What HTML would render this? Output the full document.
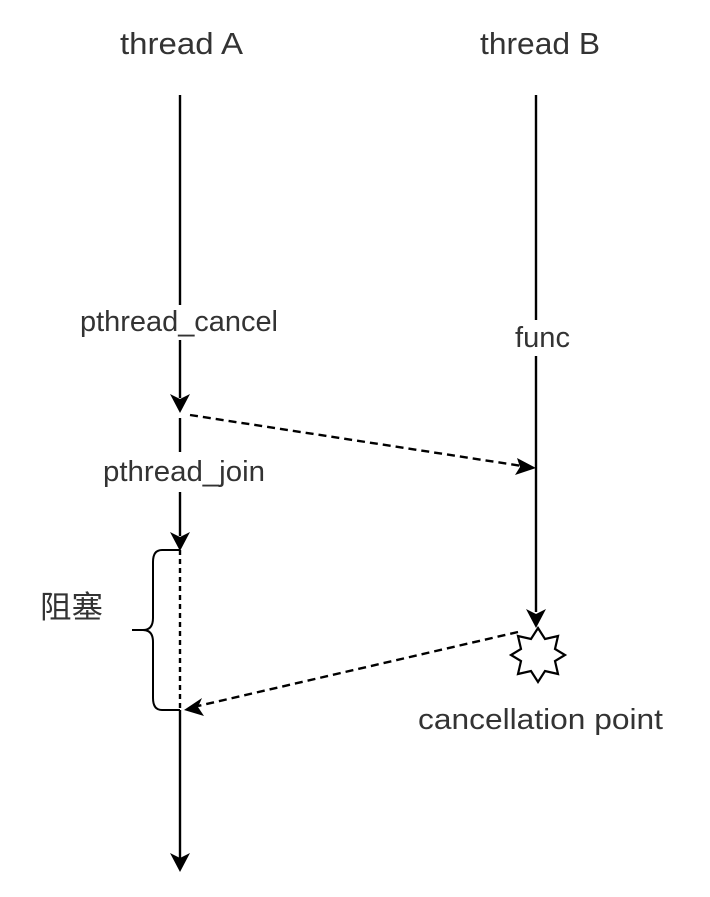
<!DOCTYPE html>
<html><head><meta charset="utf-8"><style>body{margin:0;background:#fff}</style></head><body>
<svg width="710" height="892" xmlns="http://www.w3.org/2000/svg" font-family="Liberation Sans, Noto Sans CJK SC, sans-serif" fill="#333">
<g stroke="#000" stroke-width="2.4" fill="none">
<line x1="180" y1="95" x2="180" y2="305"/>
<line x1="180" y1="340" x2="180" y2="398"/>
<line x1="180" y1="418" x2="180" y2="452"/>
<line x1="180" y1="492" x2="180" y2="536"/>
<line x1="180" y1="710" x2="180" y2="858"/>
<line x1="536" y1="95" x2="536" y2="320"/>
<line x1="536" y1="356" x2="536" y2="612"/>
<line x1="180" y1="550" x2="180" y2="710" stroke-dasharray="5,4"/>
<line x1="190" y1="415" x2="522" y2="466" stroke-dasharray="8,5"/>
<line x1="518" y1="632" x2="198" y2="706" stroke-dasharray="8,5"/>
<path d="M180 550 H162 Q153 550 153 562 V618 Q153 630 143 630 H132 M143 630 Q153 630 153 642 V698 Q153 710 162 710 H180" stroke-width="2"/>
</g>
<g fill="#000">
<path d="M180 413 L170 394 L180 399 L190 394 Z"/>
<path d="M180 551 L170 532 L180 537 L190 532 Z"/>
<path d="M180 872 L170 853 L180 858 L190 853 Z"/>
<path d="M536 628 L526 609 L536 614 L546 609 Z"/>
<path d="M536 468 L515 475 L520 467 L517 458 Z"/>
<path d="M184 710 L202 698 L198 707 L204 716 Z"/>
</g>
<polygon fill="#fff" stroke="#000" stroke-width="2.2" points="538,628 545,639 558,636 555,649 565,655 555,661 558,674 545,671 538,682 531,671 518,674 521,661 511,655 521,649 518,636 531,639"/>
<g font-size="31">
<text x="120" y="54" textLength="123" lengthAdjust="spacingAndGlyphs">thread A</text>
<text x="480" y="54" textLength="120" lengthAdjust="spacingAndGlyphs">thread B</text>
</g>
<g font-size="29">
<text x="80" y="331" textLength="198" lengthAdjust="spacingAndGlyphs">pthread_cancel</text>
<text x="515" y="347" textLength="55" lengthAdjust="spacingAndGlyphs">func</text>
<text x="103" y="481" textLength="162" lengthAdjust="spacingAndGlyphs">pthread_join</text>
<text x="418" y="729" textLength="245" lengthAdjust="spacingAndGlyphs">cancellation point</text>
<text x="40" y="618" font-size="31" textLength="63" lengthAdjust="spacingAndGlyphs">阻塞</text>
</g>
</svg>
</body></html>
